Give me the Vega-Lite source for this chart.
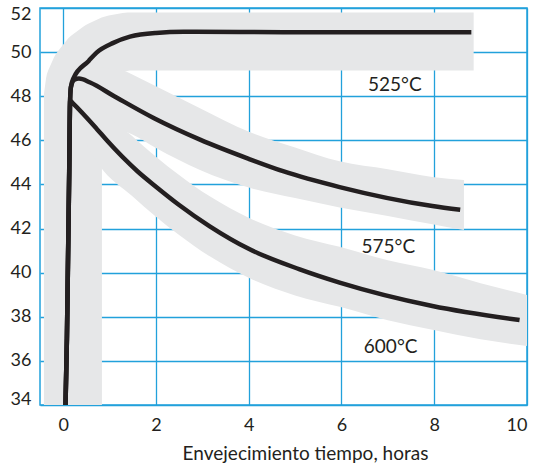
{
  "$schema": "https://vega.github.io/schema/vega-lite/v6.json",
  "width": 487,
  "height": 397,
  "autosize": "none",
  "padding": {"left": 40, "top": 8, "right": 12, "bottom": 62},
  "background": "white",
  "config": {
    "view": {"stroke": "#22a1db", "strokeWidth": 1.5},
    "font": "Lato",
    "axis": {
      "grid": true,
      "gridColor": "#22a1db",
      "gridWidth": 1.3,
      "gridOpacity": 1,
      "domain": false,
      "ticks": false,
      "labelFont": "Lato",
      "labelFontSize": 18,
      "labelColor": "#231f20",
      "titleFont": "Lato",
      "titleFontSize": 19,
      "titleFontWeight": "normal",
      "titleColor": "#231f20",
      "zindex": 1
    }
  },
  "datasets": {
    "bandline": [
      {"i": 1, "x": 0.21, "y": 34},
      {"i": 2, "x": 0.21, "y": 48.02},
      {"i": 3, "x": 0.25, "y": 48.64},
      {"i": 4, "x": 0.37, "y": 49.21},
      {"i": 5, "x": 0.56, "y": 49.71},
      {"i": 6, "x": 0.8, "y": 50.09},
      {"i": 7, "x": 1.09, "y": 50.37},
      {"i": 8, "x": 1.39, "y": 50.48},
      {"i": 9, "x": 8.85, "y": 50.48}
    ],
    "bandareas": [
      {"band": "575", "x": 0.5, "lo": 47.0, "hi": 49.4},
      {"band": "575", "x": 0.79, "lo": 46.75, "hi": 49.3},
      {"band": "575", "x": 1.3, "lo": 46.42, "hi": 49.17},
      {"band": "575", "x": 1.48, "lo": 46.28, "hi": 49.0},
      {"band": "575", "x": 2.0, "lo": 45.65, "hi": 48.45},
      {"band": "575", "x": 2.95, "lo": 44.66, "hi": 47.46},
      {"band": "575", "x": 4.02, "lo": 43.85, "hi": 46.38},
      {"band": "575", "x": 5.0, "lo": 43.38, "hi": 45.68},
      {"band": "575", "x": 5.96, "lo": 42.96, "hi": 45.05},
      {"band": "575", "x": 7.0, "lo": 42.57, "hi": 44.69},
      {"band": "575", "x": 7.96, "lo": 42.19, "hi": 44.34},
      {"band": "575", "x": 8.64, "lo": 41.93, "hi": 44.2},
      {"band": "600", "x": 0.5, "lo": 45.84, "hi": 48.56},
      {"band": "600", "x": 0.79, "lo": 44.84, "hi": 47.56},
      {"band": "600", "x": 1.48, "lo": 43.49, "hi": 46.21},
      {"band": "600", "x": 2.0, "lo": 42.54, "hi": 45.26},
      {"band": "600", "x": 2.5, "lo": 41.71, "hi": 44.43},
      {"band": "600", "x": 3.16, "lo": 40.74, "hi": 43.46},
      {"band": "600", "x": 4.02, "lo": 39.75, "hi": 42.47},
      {"band": "600", "x": 5.0, "lo": 38.97, "hi": 41.69},
      {"band": "600", "x": 5.96, "lo": 38.45, "hi": 41.17},
      {"band": "600", "x": 7.0, "lo": 37.84, "hi": 40.56},
      {"band": "600", "x": 7.96, "lo": 37.41, "hi": 40.13},
      {"band": "600", "x": 9.0, "lo": 36.98, "hi": 39.52},
      {"band": "600", "x": 10.0, "lo": 36.68, "hi": 38.99}
    ],
    "curves": [
      {"series": "525", "i": 1, "x": 0.05, "y": 34},
      {"series": "525", "i": 2, "x": 0.08, "y": 37},
      {"series": "525", "i": 3, "x": 0.1, "y": 40},
      {"series": "525", "i": 4, "x": 0.13, "y": 44.6},
      {"series": "525", "i": 5, "x": 0.145, "y": 47.5},
      {"series": "525", "i": 6, "x": 0.165, "y": 48.4},
      {"series": "525", "i": 7, "x": 0.22, "y": 48.81},
      {"series": "525", "i": 8, "x": 0.55, "y": 49.6},
      {"series": "525", "i": 9, "x": 0.72, "y": 49.98},
      {"series": "525", "i": 10, "x": 1.08, "y": 50.42},
      {"series": "525", "i": 11, "x": 1.44, "y": 50.7},
      {"series": "525", "i": 12, "x": 2.0, "y": 50.87},
      {"series": "525", "i": 13, "x": 2.6, "y": 50.92},
      {"series": "525", "i": 14, "x": 5.0, "y": 50.9},
      {"series": "525", "i": 15, "x": 8.8, "y": 50.9},
      {"series": "575", "i": 1, "x": 0.05, "y": 34},
      {"series": "575", "i": 2, "x": 0.08, "y": 37},
      {"series": "575", "i": 3, "x": 0.1, "y": 40},
      {"series": "575", "i": 4, "x": 0.13, "y": 44.6},
      {"series": "575", "i": 5, "x": 0.145, "y": 47.5},
      {"series": "575", "i": 6, "x": 0.165, "y": 48.4},
      {"series": "575", "i": 7, "x": 0.24, "y": 48.75},
      {"series": "575", "i": 8, "x": 0.34, "y": 48.8},
      {"series": "575", "i": 9, "x": 0.58, "y": 48.62},
      {"series": "575", "i": 10, "x": 1.1, "y": 48.0},
      {"series": "575", "i": 11, "x": 1.96, "y": 47.0},
      {"series": "575", "i": 12, "x": 2.95, "y": 46.03},
      {"series": "575", "i": 13, "x": 4.0, "y": 45.16},
      {"series": "575", "i": 14, "x": 4.74, "y": 44.6},
      {"series": "575", "i": 15, "x": 5.96, "y": 43.88},
      {"series": "575", "i": 16, "x": 7.96, "y": 43.02},
      {"series": "575", "i": 17, "x": 8.56, "y": 42.85},
      {"series": "600", "i": 1, "x": 0.05, "y": 34},
      {"series": "600", "i": 2, "x": 0.08, "y": 37},
      {"series": "600", "i": 3, "x": 0.1, "y": 40},
      {"series": "600", "i": 4, "x": 0.13, "y": 44.6},
      {"series": "600", "i": 5, "x": 0.15, "y": 47.8},
      {"series": "600", "i": 6, "x": 0.2, "y": 47.7},
      {"series": "600", "i": 7, "x": 0.72, "y": 46.53},
      {"series": "600", "i": 8, "x": 0.94, "y": 46.0},
      {"series": "600", "i": 9, "x": 1.6, "y": 44.6},
      {"series": "600", "i": 10, "x": 2.0, "y": 43.9},
      {"series": "600", "i": 11, "x": 2.5, "y": 43.07},
      {"series": "600", "i": 12, "x": 3.16, "y": 42.1},
      {"series": "600", "i": 13, "x": 4.0, "y": 41.08},
      {"series": "600", "i": 14, "x": 5.1, "y": 40.15},
      {"series": "600", "i": 15, "x": 5.96, "y": 39.55},
      {"series": "600", "i": 16, "x": 7.96, "y": 38.49},
      {"series": "600", "i": 17, "x": 9.84, "y": 37.85}
    ],
    "labels": [
      {"label": "525°C", "x": 7.15, "y": 48.5},
      {"label": "575°C", "x": 7.01, "y": 41.17},
      {"label": "600°C", "x": 7.06, "y": 36.65}
    ]
  },
  "encoding": {
    "x": {
      "field": "x",
      "type": "quantitative",
      "scale": {"domain": [-0.5, 10], "nice": false, "zero": false},
      "axis": {
        "values": [0, 2, 4, 6, 8, 10],
        "labelPadding": 11,
        "title": "Envejecimiento tiempo, horas",
        "titlePadding": 10,
        "titleX": 265
      }
    },
    "y": {
      "field": "y",
      "type": "quantitative",
      "scale": {"domain": [34, 52], "nice": false, "zero": false},
      "axis": {
        "values": [34, 36, 38, 40, 42, 44, 46, 48, 50, 52],
        "labelPadding": 9,
        "labelFlush": true,
        "labelFlushOffset": 3,
        "title": null
      }
    }
  },
  "layer": [
    {
      "data": {"name": "bandline"},
      "mark": {"type": "line", "color": "#e6e7e8", "strokeWidth": 58, "strokeCap": "butt", "strokeJoin": "round", "interpolate": "linear"},
      "encoding": {"order": {"field": "i", "type": "quantitative"}}
    },
    {
      "data": {"name": "bandareas"},
      "mark": {"type": "area", "color": "#e6e7e8", "opacity": 1, "interpolate": "monotone"},
      "encoding": {
        "y": {"field": "lo", "type": "quantitative"},
        "y2": {"field": "hi"},
        "detail": {"field": "band", "type": "nominal"}
      }
    },
    {
      "data": {"name": "curves"},
      "mark": {"type": "line", "color": "#231f20", "strokeWidth": 4.5, "interpolate": "monotone", "strokeJoin": "round"},
      "encoding": {
        "detail": {"field": "series", "type": "nominal"},
        "order": {"field": "i", "type": "quantitative"}
      }
    },
    {
      "data": {"name": "labels"},
      "mark": {"type": "text", "font": "Lato", "fontSize": 19, "color": "#231f20"},
      "encoding": {"text": {"field": "label", "type": "nominal"}}
    }
  ]
}
